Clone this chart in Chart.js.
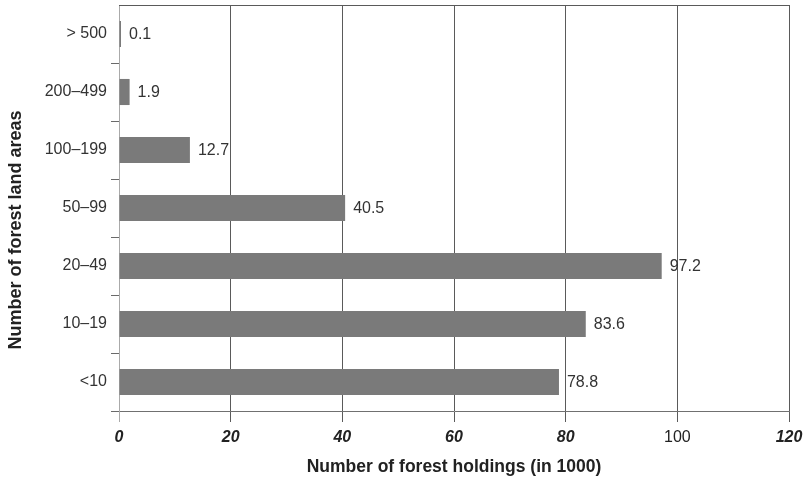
<!DOCTYPE html>
<html>
<head>
<meta charset="utf-8">
<script src="https://cdn.jsdelivr.net/npm/chart.js@4.4.1/dist/chart.umd.min.js"></script>
<style>
  html, body { margin: 0; padding: 0; background: #ffffff; }
  #wrap { width: 803px; height: 485px; }
</style>
</head>
<body>
<div id="wrap"><canvas id="c" width="803" height="485"></canvas></div>
<script>
// Forest land area classes, from largest (top) to smallest (bottom)
const areaClasses = ['> 500', '200\u2013499', '100\u2013199', '50\u201399', '20\u201349', '10\u201319', '<10'];
// Number of forest holdings per class, in thousands
const holdings = [0.1, 1.9, 12.7, 40.5, 97.2, 83.6, 78.8];
// Value axis ticks
const xTickValues = [0, 20, 40, 60, 80, 100, 120];
// Axis titles
const xTitle = 'Number of forest holdings (in 1000)';
const yTitle = 'Number of forest land areas';

const FONT = '"Liberation Sans", Arial, Helvetica, sans-serif';

// Frame line along the top of the plot area
const topFrame = {
  id: 'topFrame',
  afterDraw(chart) {
    const { ctx, chartArea } = chart;
    ctx.save();
    ctx.strokeStyle = '#5a5a5a';
    ctx.lineWidth = 1;
    ctx.beginPath();
    ctx.moveTo(chartArea.left, Math.round(chartArea.top) + 0.5);
    ctx.lineTo(chartArea.right, Math.round(chartArea.top) + 0.5);
    ctx.stroke();
    ctx.restore();
  }
};

// Rotated category-axis title, placed a little below the plot's middle
const sideTitle = {
  id: 'sideTitle',
  afterDraw(chart) {
    const { ctx, chartArea } = chart;
    const cy = (chartArea.top + chartArea.bottom) / 2 + 22;
    ctx.save();
    ctx.translate(21, cy);
    ctx.rotate(-Math.PI / 2);
    ctx.font = 'bold 18px ' + FONT;
    ctx.fillStyle = '#222222';
    ctx.textAlign = 'center';
    ctx.textBaseline = 'alphabetic';
    ctx.fillText(yTitle, 0, 0);
    ctx.restore();
  }
};

// Value labels to the right of each bar
const valueLabels = {
  id: 'valueLabels',
  afterDatasetsDraw(chart) {
    const { ctx } = chart;
    const meta = chart.getDatasetMeta(0);
    const data = chart.data.datasets[0].data;
    ctx.save();
    ctx.font = '16px ' + FONT;
    ctx.fillStyle = '#333333';
    ctx.textAlign = 'left';
    ctx.textBaseline = 'middle';
    meta.data.forEach((bar, i) => {
      ctx.fillText(data[i].toFixed(1), bar.x + 8, bar.y + 1);
    });
    ctx.restore();
  }
};

new Chart(document.getElementById('c'), {
  type: 'bar',
  data: {
    labels: areaClasses,
    datasets: [{
      data: holdings,
      backgroundColor: '#7a7a7a',
      borderWidth: 0,
      barPercentage: 0.45,
      categoryPercentage: 1.0,
      minBarLength: 2
    }]
  },
  options: {
    indexAxis: 'y',
    responsive: false,
    animation: false,
    devicePixelRatio: 1,
    layout: { padding: { top: 5, right: 14, bottom: 0, left: 0 } },
    plugins: {
      legend: { display: false },
      tooltip: { enabled: false }
    },
    scales: {
      x: {
        type: 'linear',
        min: 0,
        max: 120,
        afterBuildTicks(scale) {
          scale.ticks = xTickValues.map(v => ({ value: v }));
        },
        afterFit(scale) {
          scale.height = 74;
          scale.paddingLeft = 0;
          scale.paddingRight = 0;
        },
        grid: {
          color: (ctx) => (ctx.tick && ctx.tick.value === 0) ? '#aaaaaa' : '#5a5a5a',
          lineWidth: 1,
          drawTicks: true,
          tickLength: 11
        },
        border: { display: true, color: '#707070', width: 1 },
        ticks: {
          padding: 6,
          color: '#222222',
          font: (ctx) => ({
            family: FONT,
            size: 16,
            style: (ctx.tick && ctx.tick.value === 100) ? 'normal' : 'italic',
            weight: (ctx.tick && ctx.tick.value === 100) ? 'normal' : 'bold'
          }),
          callback: (v) => String(v)
        },
        title: {
          display: true,
          text: xTitle,
          color: '#222222',
          font: { family: FONT, size: 17.5, weight: 'bold' },
          padding: { top: 0, bottom: 7 }
        }
      },
      y: {
        type: 'category',
        afterFit(scale) {
          scale.width = 119;
          scale.paddingTop = 0;
          scale.paddingBottom = 0;
        },
        grid: {
          offset: true,
          drawOnChartArea: false,
          drawTicks: true,
          tickLength: 8,
          color: (ctx) => ctx.index === 0 ? 'rgba(0,0,0,0)' : '#6a6a6a'
        },
        border: { display: true, color: '#aaaaaa', width: 1 },
        ticks: {
          padding: 4,
          color: '#333333',
          font: { family: FONT, size: 16 }
        },
        title: { display: false }
      }
    }
  },
  plugins: [topFrame, sideTitle, valueLabels]
});
</script>
</body>
</html>
